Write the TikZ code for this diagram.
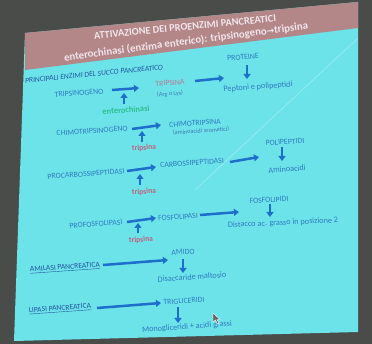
\documentclass[tikz,border=0pt]{standalone}
\usepackage{fontspec}
\setmainfont{Carlito}
\newfontfamily\symfont{DejaVu Sans}
\usetikzlibrary{arrows.meta}
\definecolor{bgdark}{HTML}{4A4C4A}
\definecolor{slidecyan}{HTML}{6CE2E9}
\definecolor{bandpink}{HTML}{B38688}
\definecolor{txtblue}{HTML}{2F7CC0}
\definecolor{arrblue}{HTML}{1E6FCB}
\definecolor{entgreen}{HTML}{2EC08C}
\definecolor{trpred}{HTML}{C0607C}
\definecolor{trporange}{HTML}{B87C94}
\definecolor{titlecol}{HTML}{F2E6EC}
\definecolor{headblue}{HTML}{24569E}
\begin{document}
\begin{tikzpicture}[x=1pt,y=-1pt,
  lbl/.style={font=\fontsize{7.8}{8}\selectfont, text=txtblue, inner sep=0pt, rotate=4},
  low/.style={font=\fontsize{8.2}{9}\selectfont, text=txtblue, inner sep=0pt, rotate=4},
  smalltxt/.style={font=\fontsize{6.2}{7}\selectfont, text=txtblue!80!gray, inner sep=0pt, rotate=4},
  act/.style={font=\bfseries\fontsize{7.6}{8}\selectfont, text=trpred, inner sep=0pt, rotate=4},
  under/.style={font=\fontsize{7.6}{8}\selectfont, text=headblue, inner sep=0pt, rotate=4},
  arr/.style={-{Triangle[length=5pt,width=7pt]}, line width=2.5pt, draw=arrblue},
  varr/.style={-{Triangle[length=5pt,width=7pt]}, line width=2.4pt, draw=arrblue},
  titletxt/.style={font=\bfseries\fontsize{10.3}{11}\selectfont, text=titlecol, inner sep=0pt}]
\useasboundingbox (0,0) rectangle (372,344);
\fill[bgdark] (0,0) rectangle (372,344);
\fill[slidecyan] (25,33) -- (358,2) -- (358,332) -- (14,341) -- cycle;
\fill[bandpink] (25,33) -- (358,2) -- (358,28) -- (25,70) -- cycle;
\draw[white, opacity=0.35, line width=0.6pt] (358,38) -- (195,190);
% title
\node[titletxt, rotate=5.5] (t1) at (185,27) {ATTIVAZIONE DEI PROENZIMI PANCREATICI};
\node[titletxt, rotate=7.5, font=\bfseries\fontsize{10.8}{11}\selectfont] (t2) at (186,42) {enterochinasi (enzima enterico): tripsinogeno{\symfont\fontsize{9}{10}\selectfont→}tripsina};
\node[font=\itshape\fontsize{7.6}{9}\selectfont, text=headblue, inner sep=0pt, rotate=5.5] (head) at (94,74) {PRINCIPALI ENZIMI DEL SUCCO PANCREATICO};
% row 1
\node[lbl] (tripsinogeno) at (79,93) {TRIPSINOGENO};
\node[lbl, text=trporange] (tripsina) at (170,83) {TRIPSINA};
\node[smalltxt] (arglys) at (170,94) {(Arg o Lys)};
\node[lbl] (proteine) at (243,57) {PROTEINE};
\node[low] (peptoni) at (258,87) {Peptoni e polipeptidi};
\node[act, text=entgreen, font=\bfseries\fontsize{8.4}{9}\selectfont] (enteroch) at (126,110) {enterochinasi};
\coordinate (a1s) at (112,90); \coordinate (a1e) at (139,88);
\coordinate (a2s) at (195,81); \coordinate (a2e) at (224,78);
\draw[arr] (a1s) -- (a1e);
\draw[arr] (a2s) -- (a2e);
\draw[varr] (124,104) coordinate (u1s) -- (124,93) coordinate (u1e);
\draw[varr] (247,65) coordinate (d1s) -- (247,79) coordinate (d1e);
% row 2
\node[lbl] (chimogeno) at (92,131) {CHIMOTRIPSINOGENO};
\node[lbl] (chimo) at (195,123) {CHIMOTRIPSINA};
\node[smalltxt] (aromatici) at (201,131) {(aminoacidi aromatici)};
\node[act] (trip2) at (144,148) {tripsina};
\draw[arr] (132,129) coordinate (a3s) -- (161,125) coordinate (a3e);
\draw[varr] (142,142) coordinate (u2s) -- (142,131) coordinate (u2e);
% row 3
\node[lbl] (polipeptidi) at (285,142) {POLIPEPTIDI};
\node[lbl] (carbossi) at (192,163) {CARBOSSIPEPTIDASI};
\node[low] (aminoacidi) at (287,169) {Aminoacidi};
\node[lbl] (procarbossi) at (86,174) {PROCARBOSSIPEPTIDASI};
\node[act] (trip3) at (144,192) {tripsina};
\draw[varr] (282,147) coordinate (d2s) -- (282,161) coordinate (d2e);
\draw[arr] (230,162) coordinate (a4s) -- (259,157) coordinate (a4e);
\draw[arr] (127,171) coordinate (a5s) -- (156,167) coordinate (a5e);
\draw[varr] (140,185) coordinate (u3s) -- (140,174) coordinate (u3e);
% row 4
\node[lbl] (fosfolipidi) at (269,200) {FOSFOLIPIDI};
\node[lbl] (profosfo) at (96,224) {PROFOSFOLIPASI};
\node[act] (trip4) at (141,240) {tripsina};
\node[lbl] (fosfolipasi) at (178,217) {FOSFOLIPASI};
\node[low, rotate=-1.5] (distacco) at (283,223) {Distacco ac. grasso in posizione 2};
\draw[varr] (270,204) coordinate (d3s) -- (270,217) coordinate (d3e);
\draw[arr] (127,222) coordinate (a6s) -- (156,218) coordinate (a6e);
\draw[varr] (138,233) coordinate (u4s) -- (138,223) coordinate (u4e);
\draw[arr] (200,215) coordinate (a7s) -- (239,212) coordinate (a7e);
% row 5
\node[lbl] (amido) at (183,252) {AMIDO};
\node[under] (amilasi) at (65,268) {\underline{AMILASI PANCREATICA}};
\node[low] (disacc) at (192,277) {Disaccaride maltosio};
\draw[arr] (103,265) coordinate (a8s) -- (168,260) coordinate (a8e);
\draw[varr] (183,259) coordinate (d4s) -- (183,273) coordinate (d4e);
% row 6
\node[under] (lipasi) at (60,309) {\underline{LIPASI PANCREATICA}};
\node[lbl] (trigli) at (184,301) {TRIGLICERIDI};
\node[low] (monogli) at (187,327) {Monogliceridi + acidi grassi};
\draw[arr] (97,308) coordinate (a9s) -- (161,303) coordinate (a9e);
\draw[varr] (178,307) coordinate (d5s) -- (178,323) coordinate (d5e);
% cursor
\draw[white, fill=black!60, line width=0.4pt] (213,313) -- (213,322) -- (215.5,320) -- (217.5,324) -- (219,323.3) -- (217,319.5) -- (220,319.5) -- cycle;
\end{tikzpicture}
\end{document}
